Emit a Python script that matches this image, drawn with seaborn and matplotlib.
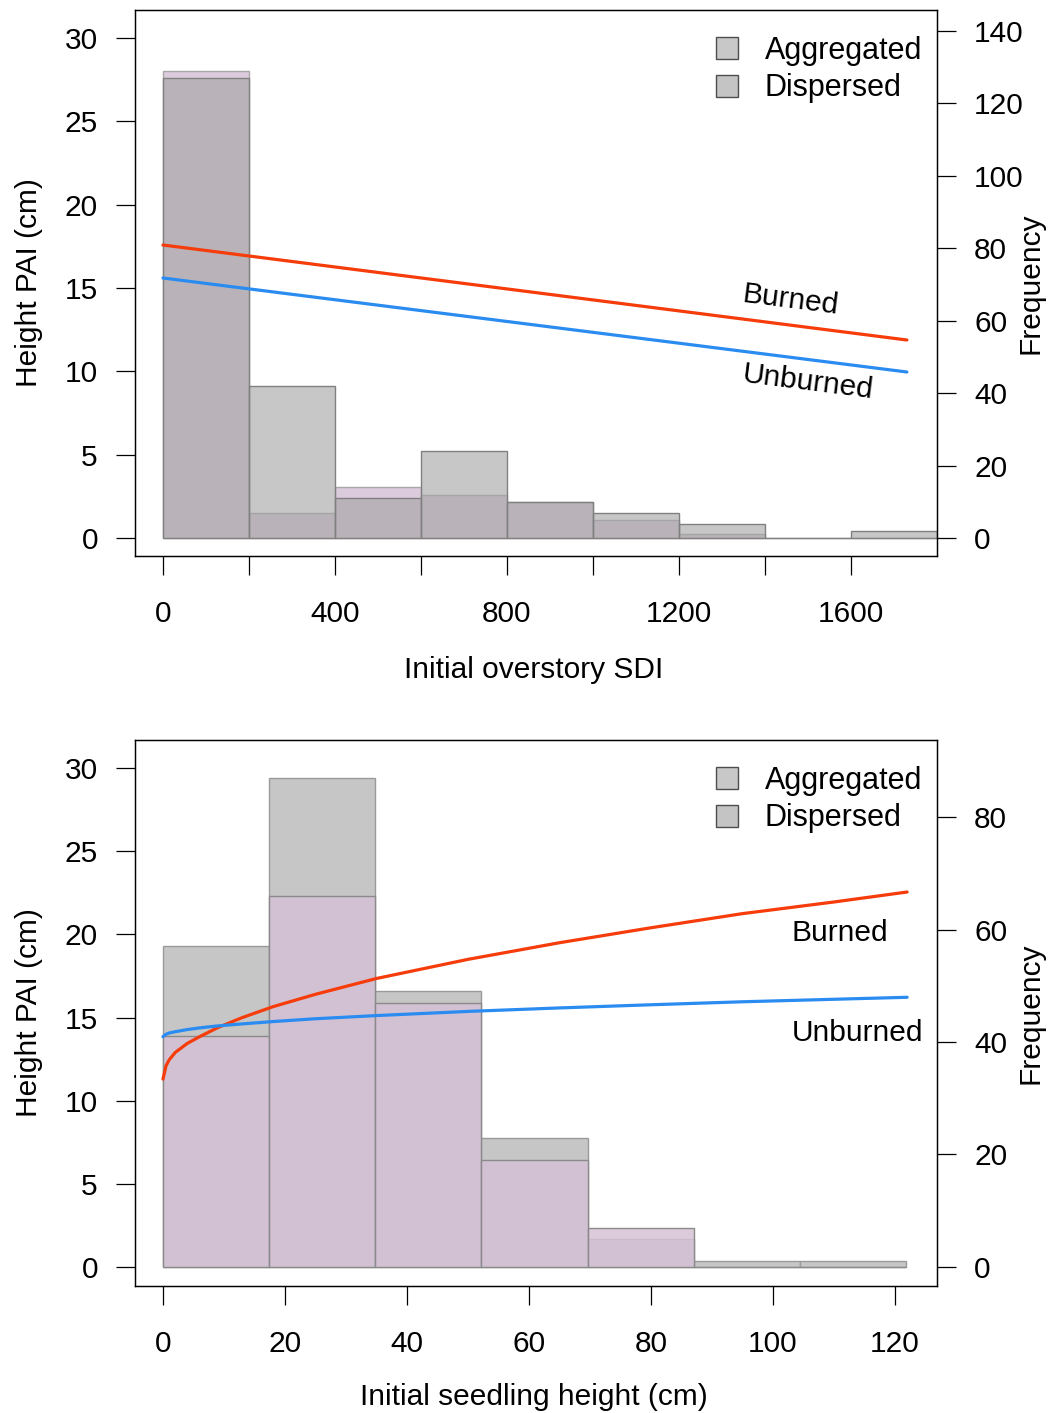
import numpy as np
import pandas as pd
import matplotlib
matplotlib.use("Agg")
import matplotlib.pyplot as plt
import seaborn as sns
from matplotlib.patches import Patch

# ---------------- data: top panel (initial overstory SDI) ----------------
sdi_bin_edges = [0, 200, 400, 600, 800, 1000, 1200, 1400, 1600, 1800]
sdi_aggregated = [127, 42, 11, 24, 10, 7, 4, 0, 2]
sdi_dispersed = [129, 7, 14, 12, 10, 5, 1, 0, 0]
sdi_x = [0, 1730]
sdi_burned = [17.58, 11.88]
sdi_unburned = [15.60, 9.96]
sdi_xticks = [0, 200, 400, 600, 800, 1000, 1200, 1400, 1600]
sdi_xticklabels = ["0", "", "400", "", "800", "", "1200", "", "1600"]
sdi_freq_ticks = [0, 20, 40, 60, 80, 100, 120, 140]

# ---------------- data: bottom panel (initial seedling height) ----------------
ht_bin_edges = [0, 17.4, 34.8, 52.2, 69.6, 87.0, 104.4, 121.8]
ht_aggregated = [57, 87, 49, 23, 5, 1, 1]
ht_dispersed = [41, 66, 47, 19, 7, 0, 0]
ht_x = [0, 0.5, 1, 2, 4, 6, 9, 13, 18, 25, 35, 50, 65, 80, 95, 110, 122]
ht_burned = [11.3, 12.1, 12.45, 12.9, 13.45, 13.85, 14.4, 15.0, 15.65, 16.4,
             17.35, 18.5, 19.5, 20.4, 21.25, 21.95, 22.55]
ht_unburned = [13.85, 14.0, 14.07, 14.15, 14.28, 14.38, 14.5, 14.62, 14.76,
               14.93, 15.12, 15.37, 15.58, 15.77, 15.95, 16.1, 16.22]
ht_xticks = [0, 20, 40, 60, 80, 100, 120]
ht_freq_ticks = [0, 20, 40, 60, 80]

pai_ticks = [0, 5, 10, 15, 20, 25, 30]

sns.set_theme(style="ticks")
plt.rcParams['font.family'] = ['Liberation Sans', 'DejaVu Sans']
plt.rcParams.update({'text.color': 'black', 'axes.labelcolor': 'black',
                     'xtick.color': 'black', 'ytick.color': 'black',
                     'axes.edgecolor': 'black'})

FS = 21.5
RED = '#f53c0a'
BLUE = '#2a8cf0'

fig = plt.figure(figsize=(10.48, 14.13), dpi=100)


def style_axes(ax):
    for s in ax.spines.values():
        s.set_color('black')
        s.set_linewidth(0.9)
        s.set_visible(True)


def hist(ax, edges, counts, color, alpha, edge):
    e = [float(v) for v in edges]
    mids = [(a + b) / 2 for a, b in zip(e[:-1], e[1:])]
    df = pd.DataFrame({'mid': mids, 'n': [float(c) for c in counts]})
    sns.histplot(data=df, x='mid', weights='n', bins=e, ax=ax, color=color,
                 alpha=alpha, edgecolor=edge, linewidth=1.0, stat='count')


def panel(rect, edges, agg, disp, order, xs, burned, unburned, xlim, ylimL, ylimR,
          xticks, xticklabels, freq_ticks, xlabel, xlab_y, texts):
    axL = fig.add_axes(rect)
    axR = axL.twinx()
    # histograms (frequency axis)
    if order == 'top':
        hist(axR, edges, disp, '#dccbdc', 1.0, '#a8a8a8')
        hist(axR, edges, agg, '#a3a3a3', 0.6, '#808080')
    else:
        hist(axR, edges, agg, '#c6c6c6', 1.0, '#9a9a9a')
        hist(axR, edges, disp, '#d5c1d5', 0.84, '#8a8a8a')
    # model lines (height PAI axis)
    sns.lineplot(x=xs, y=burned, ax=axL, color=RED, linewidth=2.3)
    sns.lineplot(x=xs, y=unburned, ax=axL, color=BLUE, linewidth=2.3)
    axL.set_zorder(axR.get_zorder() + 1)
    axL.patch.set_visible(False)

    axL.set_xlim(*xlim)
    axR.set_xlim(*xlim)
    axL.set_ylim(*ylimL)
    axR.set_ylim(*ylimR)

    axL.set_xticks(xticks)
    axL.set_xticklabels(xticklabels)
    axL.set_yticks(pai_ticks)
    axL.set_yticklabels([str(t) for t in pai_ticks])
    axR.set_yticks(freq_ticks)
    axR.set_yticklabels([str(t) for t in freq_ticks])

    for ax in (axL, axR):
        style_axes(ax)
        ax.tick_params(direction='out', length=13.7, width=0.9, pad=13,
                       labelsize=FS, colors='black')
        ax.grid(False)
    axL.tick_params(axis='y', left=True, right=False, labelleft=True, labelright=False)
    axR.tick_params(axis='y', left=False, right=True, labelleft=False, labelright=True)
    axL.tick_params(axis='x', bottom=True, top=False, pad=18)

    axL.set_ylabel('Height PAI (cm)', fontsize=FS, color='black')
    axL.yaxis.set_label_coords(-0.1147, 0.5)
    axR.set_ylabel('Frequency', fontsize=FS, color='black')
    axR.yaxis.set_label_coords(1.0985, 0.5)
    axL.set_xlabel(xlabel, fontsize=FS, color='black')
    axL.xaxis.set_label_coords(0.497, xlab_y)
    axR.set_xlabel('')

    for (tx, ty, s, rot) in texts:
        axL.text(tx, ty, s, rotation=rot, rotation_mode='anchor', ha='center',
                 va='center', fontsize=FS, color='black')

    handles = [Patch(facecolor='#c8c8c8', edgecolor='#4d4d4d', linewidth=1.0),
               Patch(facecolor='#c4c4c4', edgecolor='#4d4d4d', linewidth=1.0)]
    leg = axL.legend(handles, ['Aggregated', 'Dispersed'], loc='upper left',
                     bbox_to_anchor=(0.7244, 0.9524), frameon=False, fontsize=22,
                     handlelength=0.72, handleheight=0.72, handletextpad=0.88,
                     labelspacing=0.24, borderpad=0, borderaxespad=0)
    for t in leg.get_texts():
        t.set_color('black')
    return axL, axR


panel([0.1288, 0.60651, 0.7653, 0.38641], sdi_bin_edges, sdi_aggregated, sdi_dispersed,
      'top', sdi_x, sdi_burned, sdi_unburned, (-65.1, 1800), (-1.08, 31.68),
      (-4.97, 145.8), sdi_xticks, sdi_xticklabels, sdi_freq_ticks,
      'Initial overstory SDI', -0.183,
      [(1458, 14.28, 'Burned', -7.2), (1500, 9.36, 'Unburned', -7.2)])

panel([0.1288, 0.08988, 0.7653, 0.38641], ht_bin_edges, ht_aggregated, ht_dispersed,
      'bottom', ht_x, ht_burned, ht_unburned, (-4.59, 126.9), (-1.14, 31.69),
      (-3.38, 93.69), ht_xticks, [str(t) for t in ht_xticks], ht_freq_ticks,
      'Initial seedling height (cm)', -0.1777,
      [(111, 20.08, 'Burned', 0), (113.9, 14.07, 'Unburned', 0)])

fig.savefig('out.png', dpi=100, facecolor='white')
